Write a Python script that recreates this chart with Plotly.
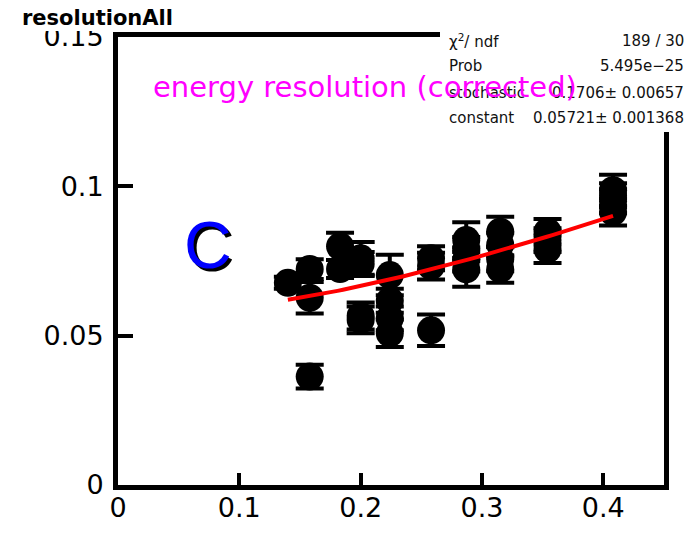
import numpy as np
import plotly.graph_objects as go

# ---- data ----
inv_sqrt_e = [0.140,
              0.158, 0.158, 0.158,
              0.183, 0.183,
              0.200, 0.200, 0.200, 0.200,
              0.224, 0.224, 0.224, 0.224,
              0.258, 0.258, 0.258,
              0.287, 0.287, 0.287, 0.287,
              0.315, 0.315, 0.315, 0.315,
              0.354, 0.354, 0.354,
              0.408, 0.408, 0.408, 0.408]
resolution = [0.0677,
              0.0723, 0.0627, 0.0363,
              0.0799, 0.0723,
              0.0759, 0.0740, 0.0566, 0.0553,
              0.0703, 0.0617, 0.0558, 0.0508,
              0.0759, 0.0733, 0.0518,
              0.0820, 0.0790, 0.0755, 0.0722,
              0.0848, 0.0805, 0.0756, 0.0723,
              0.0848, 0.0820, 0.0789,
              0.0987, 0.0970, 0.0950, 0.0914]
resolution_err = [0.0020,
                  0.0033, 0.0053, 0.0040,
                  0.0046, 0.0030,
                  0.0055, 0.0040, 0.0045, 0.0045,
                  0.0068, 0.0040, 0.0040, 0.0046,
                  0.0040, 0.0045, 0.0053,
                  0.0060, 0.0040, 0.0040, 0.0058,
                  0.0050, 0.0040, 0.0040, 0.0046,
                  0.0043, 0.0040, 0.0046,
                  0.0052, 0.0040, 0.0040, 0.0045]

# fit result shown in the stats box
fit_stochastic = 0.1706
fit_constant = 0.05721
fit_range = [0.140, 0.408]

x_tickvals = [0, 0.1, 0.2, 0.3, 0.4]
x_ticktext = ["0", "0.1", "0.2", "0.3", "0.4"]
y_tickvals = [0, 0.05, 0.1, 0.15]
y_ticktext = ["0", "0.05", "0.1", "0.15"]

stats_labels = ["χ<sup>2</sup>/ ndf", "Prob", "stochastic", "constant"]
stats_values = ["189 / 30", "5.495e\u221225", "0.1706\u00b1 0.00657", "0.05721\u00b1 0.001368"]

# ---- layout geometry ----
OFF = 8                      # default body margin of the page
W, H = 696 - OFF, 534 - 2 * OFF
PL, PR, PT, PB = 118, 664, 37, 485          # plot area in page pixels
ML, MR, MT, MB = PL - OFF, OFF + W - PR, PT - OFF, OFF + H - PB
PW, PH = PR - PL, PB - PT


def pxx(x):
    return (x - PL) / PW


def pxy(y):
    return (PB - y) / PH


fit_x = np.linspace(fit_range[0], fit_range[1], 60)
fit_y = np.sqrt((fit_stochastic * fit_x) ** 2 + fit_constant ** 2)

fig = go.Figure()
fig.add_trace(go.Scatter(
    x=inv_sqrt_e, y=resolution, mode="markers",
    marker=dict(symbol="circle", size=28, color="black"),
    error_y=dict(type="data", array=resolution_err, color="black",
                 thickness=4, width=14),
    showlegend=False, hoverinfo="skip"))
fig.add_trace(go.Scatter(
    x=fit_x, y=fit_y, mode="lines",
    line=dict(color="#ff0000", width=4),
    showlegend=False, hoverinfo="skip"))

axis_common = dict(showline=True, linewidth=5, linecolor="black", mirror=True,
                   ticks="inside", tickwidth=4, tickcolor="black",
                   showgrid=False, zeroline=False, automargin=False,
                   tickfont=dict(family="DejaVu Sans", size=27, color="black"))
fig.update_xaxes(range=[0, 0.45], tickvals=x_tickvals, ticktext=x_ticktext,
                 ticklen=12, ticklabelstandoff=-5, **axis_common)
fig.update_yaxes(range=[0, 0.15], tickvals=y_tickvals, ticktext=y_ticktext,
                 ticklen=15, ticklabelstandoff=4, **axis_common)

shapes = [
    # stats box (white, covers frame corner)
    dict(type="rect", xref="paper", yref="paper", layer="above",
         x0=pxx(440), x1=pxx(700), y0=pxy(132), y1=pxy(22),
         fillcolor="white", line=dict(width=0)),
    # title box covering the top of the upper tick label
    dict(type="rect", xref="paper", yref="paper", layer="above",
         x0=pxx(0), x1=pxx(200), y0=pxy(31), y1=pxy(0),
         fillcolor="white", line=dict(width=0)),
]

annotations = []
row_y = [41, 66, 93, 118]
stat_font = dict(family="DejaVu Sans", size=15, color="#111111")
for lab, val, ry in zip(stats_labels, stats_values, row_y):
    annotations.append(dict(xref="paper", yref="paper", x=pxx(447), y=pxy(ry),
                            text=lab, showarrow=False, xanchor="left",
                            yanchor="middle", font=stat_font))
    annotations.append(dict(xref="paper", yref="paper", x=pxx(686), y=pxy(ry),
                            text=val, showarrow=False, xanchor="right",
                            yanchor="middle", font=stat_font))

annotations.append(dict(xref="paper", yref="paper", x=pxx(20), y=pxy(18),
                        text="<b>resolutionAll</b>", showarrow=False,
                        xanchor="left", yanchor="middle",
                        font=dict(family="DejaVu Sans", size=21, color="black")))
annotations.append(dict(xref="paper", yref="paper", x=pxx(365), y=pxy(87),
                        text="energy resolution (corrected)", showarrow=False,
                        xanchor="center", yanchor="middle",
                        font=dict(family="DejaVu Sans", size=29, color="#ff00ff")))
annotations.append(dict(xref="paper", yref="paper", x=pxx(208), y=pxy(245),
                        text="C", showarrow=False,
                        xanchor="center", yanchor="middle",
                        font=dict(family="Liberation Sans", size=66, color="blue",
                                  shadow="3px 3px 0px black")))

fig.update_layout(width=W, height=H,
                  margin=dict(l=ML, r=MR, t=MT, b=MB, pad=0, autoexpand=False),
                  paper_bgcolor="white", plot_bgcolor="white",
                  shapes=shapes, annotations=annotations)

fig.write_html("out.html")
